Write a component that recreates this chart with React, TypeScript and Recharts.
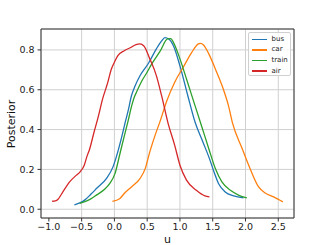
import { LineChart, Line, XAxis, YAxis, CartesianGrid, ReferenceArea } from "recharts";

// values (u, posterior density)
const busU = [-0.61, -0.52, -0.45, -0.36, -0.27, -0.12, -0.02, 0.06, 0.13, 0.16, 0.21, 0.26, 0.31, 0.39, 0.52, 0.64, 0.72, 0.77, 0.83, 0.9, 1.0, 1.12, 1.23, 1.35, 1.45, 1.52, 1.59, 1.69, 1.82, 1.97];
const busP = [0.022, 0.033, 0.047, 0.075, 0.105, 0.155, 0.214, 0.298, 0.388, 0.43, 0.495, 0.57, 0.615, 0.67, 0.733, 0.805, 0.845, 0.862, 0.855, 0.821, 0.72, 0.57, 0.438, 0.338, 0.254, 0.187, 0.128, 0.087, 0.067, 0.057];

const carU = [-0.03, 0.08, 0.16, 0.26, 0.39, 0.47, 0.54, 0.62, 0.69, 0.8, 0.92, 1.05, 1.18, 1.28, 1.31, 1.36, 1.44, 1.54, 1.67, 1.74, 1.8, 1.95, 2.08, 2.2, 2.3, 2.43, 2.57];
const carP = [0.04, 0.053, 0.083, 0.112, 0.154, 0.204, 0.288, 0.371, 0.435, 0.545, 0.638, 0.713, 0.788, 0.83, 0.833, 0.825, 0.78, 0.704, 0.595, 0.52, 0.435, 0.304, 0.196, 0.112, 0.082, 0.062, 0.037];

const trainU = [-0.53, -0.45, -0.36, -0.27, -0.15, -0.07, 0.01, 0.085, 0.16, 0.21, 0.26, 0.3, 0.34, 0.42, 0.49, 0.57, 0.7, 0.81, 0.86, 0.9, 1.0, 1.1, 1.23, 1.32, 1.44, 1.54, 1.64, 1.77, 1.9, 2.02];
const trainP = [0.03, 0.038, 0.052, 0.072, 0.1, 0.13, 0.18, 0.28, 0.38, 0.445, 0.515, 0.56, 0.59, 0.645, 0.683, 0.73, 0.795, 0.855, 0.857, 0.838, 0.755, 0.654, 0.52, 0.428, 0.304, 0.204, 0.137, 0.095, 0.07, 0.057];

const airU = [-0.95, -0.9, -0.86, -0.8, -0.68, -0.6, -0.52, -0.46, -0.42, -0.38, -0.31, -0.25, -0.18, -0.1, -0.05, 0.0, 0.05, 0.15, 0.25, 0.33, 0.39, 0.45, 0.54, 0.64, 0.72, 0.82, 0.92, 1.0, 1.1, 1.25, 1.38, 1.45];
const airP = [0.04, 0.042, 0.05, 0.08, 0.139, 0.165, 0.189, 0.221, 0.264, 0.3, 0.388, 0.46, 0.554, 0.638, 0.7, 0.738, 0.77, 0.796, 0.812, 0.827, 0.83, 0.82, 0.755, 0.671, 0.57, 0.43, 0.321, 0.221, 0.146, 0.095, 0.067, 0.062];

const seriesNames = ["bus", "car", "train", "air"];
const seriesColors = ["#1f77b4", "#ff7f0e", "#2ca02c", "#d62728"];
const seriesU = [busU, carU, trainU, airU];
const seriesP = [busP, carP, trainP, airP];

const xTicks = [-1, -0.5, 0, 0.5, 1, 1.5, 2, 2.5];
const yTicks = [0, 0.2, 0.4, 0.6, 0.8];
const xDomain = [-1.12, 2.74];
const yDomain = [-0.044, 0.905];

const font = "DejaVu Sans";
const fmt = (v: number) => v.toFixed(1).replace("-", "\u2212");

export default function App() {
  const tick = { fontSize: 9.5, fill: "#222", fontFamily: font };
  return (
    <div style={{ position: "absolute", left: 0, top: 0, width: 327, height: 245, background: "#fff" }}>
      <LineChart width={327} height={245} margin={{ top: 29, right: 33, bottom: 0, left: 0 }}>
        <CartesianGrid stroke="#d0d0d0" strokeWidth={1} />
        <XAxis
          type="number"
          dataKey="u"
          domain={xDomain}
          ticks={xTicks}
          allowDataOverflow
          tickFormatter={fmt}
          height={27}
          axisLine={false}
          tickLine={{ stroke: "#333" }}
          tickSize={3.5}
          tickMargin={2}
          tick={tick}
        />
        <YAxis
          type="number"
          domain={yDomain}
          ticks={yTicks}
          allowDataOverflow
          tickFormatter={fmt}
          width={41}
          axisLine={false}
          tickLine={{ stroke: "#333" }}
          tickSize={3.5}
          tickMargin={3}
          tick={tick}
        />
        <ReferenceArea x1={xDomain[0]} x2={xDomain[1]} y1={yDomain[0]} y2={yDomain[1]} fill="none" stroke="#333" strokeWidth={1} />
        {seriesNames.map((name, i) => (
          <Line
            key={name}
            name={name}
            data={seriesU[i].map((u, j) => ({ u, p: seriesP[i][j] }))}
            dataKey="p"
            type="monotone"
            stroke={seriesColors[i]}
            strokeWidth={1.3}
            dot={false}
            isAnimationActive={false}
          />
        ))}
      </LineChart>
      <div
        style={{
          position: "absolute",
          left: 11,
          top: 123.5,
          transform: "translate(-50%, -50%) rotate(-90deg)",
          fontFamily: font,
          fontSize: 11,
          lineHeight: 1,
          color: "#111",
          whiteSpace: "nowrap",
        }}
      >
        Posterior
      </div>
      <div
        style={{
          position: "absolute",
          left: 167.5,
          top: 238.5,
          transform: "translate(-50%, -50%)",
          fontFamily: font,
          fontSize: 11,
          lineHeight: 1,
          color: "#111",
        }}
      >
        u
      </div>
      <div
        style={{
          position: "absolute",
          left: 248,
          top: 32,
          width: 43,
          height: 44,
          boxSizing: "border-box",
          border: "1px solid #d0d0d0",
          borderRadius: 2,
          background: "rgba(255,255,255,0.8)",
          paddingTop: 1,
        }}
      >
        {seriesNames.map((name, i) => (
          <div key={name} style={{ display: "flex", alignItems: "center", height: 10.6 }}>
            <div style={{ marginLeft: 2.5, width: 15, height: 1.3, background: seriesColors[i] }} />
            <span style={{ marginLeft: 5, fontFamily: font, fontSize: 7, lineHeight: 1, color: "#222" }}>{name}</span>
          </div>
        ))}
      </div>
    </div>
  );
}
